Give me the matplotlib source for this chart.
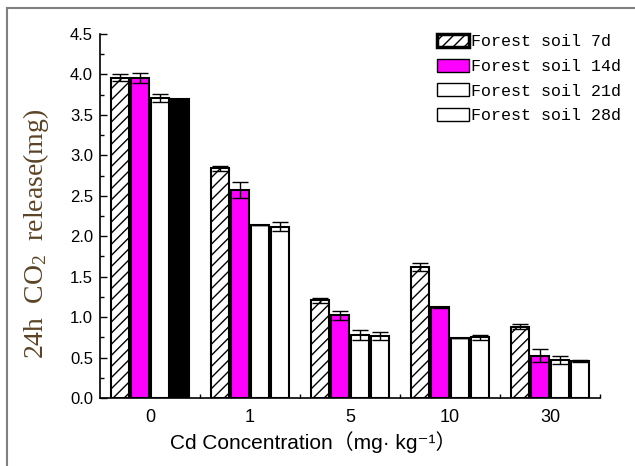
import numpy as np
import matplotlib
matplotlib.use("Agg")
import matplotlib.pyplot as plt
from matplotlib.patches import Patch
from matplotlib.lines import Line2D
from matplotlib.ticker import MultipleLocator, FixedLocator

# data
conc = ['0', '1', '5', '10', '30']
soil_7d = [3.96, 2.84, 1.21, 1.62, 0.88]
err_7d = [0.04, 0.03, 0.03, 0.05, 0.03]
soil_14d = [3.96, 2.57, 1.02, 1.12, 0.52]
err_14d = [0.06, 0.10, 0.05, 0.01, 0.08]
soil_21d = [3.71, 2.14, 0.78, 0.74, 0.47]
err_21d = [0.05, 0.0, 0.06, 0.0, 0.05]
soil_28d = [3.70, 2.12, 0.77, 0.75, 0.46]
err_28d = [0.0, 0.06, 0.05, 0.03, 0.01]
labels = ['Forest soil 7d', 'Forest soil 14d', 'Forest soil 21d', 'Forest soil 28d']

plt.rcParams['hatch.linewidth'] = 1.0
plt.rcParams['mathtext.fontset'] = 'custom'
plt.rcParams['mathtext.rm'] = 'Liberation Serif'
plt.rcParams['mathtext.it'] = 'Liberation Serif'

fig = plt.figure(figsize=(6.35, 4.66), dpi=100)
ax = fig.add_axes([100 / 635, 68 / 466, 500 / 635, 364 / 466])

x = np.arange(len(conc))
w = 0.18
ekw = dict(elinewidth=1.0, capthick=1.0, ecolor='black')

ax.bar(x - 0.3, soil_7d, w, color='white', edgecolor='black', hatch='///', linewidth=1.5,
       yerr=err_7d, capsize=6, error_kw=ekw)
ax.bar(x - 0.1, soil_14d, w, color='#ff00ff', edgecolor='black', linewidth=1.5,
       yerr=err_14d, capsize=6, error_kw=ekw)
ax.bar(x + 0.1, soil_21d, w, color='white', edgecolor='black', linewidth=1.5,
       yerr=err_21d, capsize=6, error_kw=ekw)
colors_28 = ['black', 'white', 'white', 'white', 'white']
ax.bar(x + 0.3, soil_28d, w, color=colors_28, edgecolor='black', linewidth=1.5,
       yerr=err_28d, capsize=6, error_kw=ekw)

ax.set_xlim(-0.5, 4.5)
ax.set_ylim(0, 4.5)
ax.set_xticks(x)
ax.set_xticklabels(conc)
ax.xaxis.set_minor_locator(FixedLocator([0.5, 1.5, 2.5, 3.5, 4.5]))
ax.yaxis.set_major_locator(MultipleLocator(0.5))
ax.yaxis.set_minor_locator(MultipleLocator(0.25))
ax.tick_params(axis='x', which='major', length=0, pad=8, labelsize=13)
ax.tick_params(axis='x', which='minor', direction='in', length=3, width=1)
ax.tick_params(axis='y', which='major', direction='in', length=5, width=1, labelsize=12, pad=5)
ax.tick_params(axis='y', which='minor', direction='in', length=3, width=1)
for lab in ax.get_xticklabels() + ax.get_yticklabels():
    lab.set_family('Liberation Sans')

ax.spines['top'].set_visible(False)
ax.spines['right'].set_visible(False)
ax.spines['left'].set_linewidth(1.2)
ax.spines['bottom'].set_linewidth(1.2)

ax.set_ylabel('24h  CO$_2$  release(mg)', fontsize=20, family='Liberation Serif',
              color='#5c4326')
ax.yaxis.set_label_coords(-0.098, 0.45)
ax.set_xlabel('Cd Concentration\uff08mg\u00b7 kg\u207b\u00b9\uff09', fontsize=15,
              family=['Liberation Sans', 'Noto Sans CJK SC', 'DejaVu Sans'])
ax.xaxis.set_label_coords(0.426, -0.092)

handles = [
    Patch(facecolor='white', edgecolor='black', hatch='///', linewidth=2.5),
    Patch(facecolor='#ff00ff', edgecolor='black', linewidth=1.0),
    Patch(facecolor='white', edgecolor='black', linewidth=1.0),
    Patch(facecolor='white', edgecolor='black', linewidth=1.0),
]
ax.legend(handles, labels, loc='upper left', bbox_to_anchor=(437 / 635, 1 - 34 / 466),
          bbox_transform=fig.transFigure, frameon=False,
          prop={'family': 'Liberation Mono', 'size': 12},
          handlelength=1.9, handleheight=0.85, handletextpad=0.15,
          labelspacing=0.55, borderaxespad=0, borderpad=0)

# grey frame around the picture
fig.add_artist(Line2D([7 / 635, 1.0], [1 - 8 / 466, 1 - 8 / 466], color='#808080', lw=1.5))
fig.add_artist(Line2D([7 / 635, 7 / 635], [0, 1 - 8 / 466], color='#808080', lw=1.5))

fig.savefig('out.png', dpi=100)
